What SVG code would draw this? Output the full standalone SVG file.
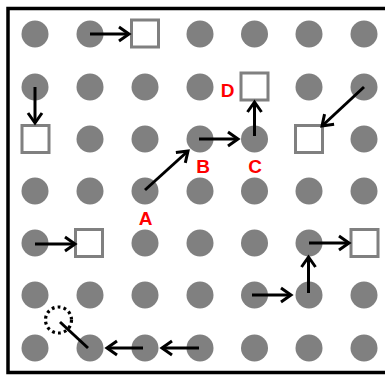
<svg xmlns="http://www.w3.org/2000/svg" width="385" height="376" viewBox="0 0 385 376">
<defs>
<style>
.dot{fill:#808080}
.sq{fill:#ffffff;stroke:#808080;stroke-width:3}
.ar{stroke:#000;stroke-width:3;fill:none;marker-end:url(#ah)}
.ln{stroke:#000;stroke-width:3;fill:none}
.lbl{font-family:"Liberation Sans",Arial,sans-serif;font-weight:bold;font-size:19px;fill:#ff0000;text-anchor:middle}
</style>
<marker id="ah" markerUnits="userSpaceOnUse" markerWidth="20" markerHeight="20" viewBox="-12 -10 14 20" refX="0" refY="0" orient="auto">
<path d="M-10,-7 L0,0 L-10,7" fill="none" stroke="#000" stroke-width="3"/>
</marker>
</defs>
<rect x="0" y="0" width="385" height="376" fill="#ffffff"/>
<rect x="8" y="8.5" width="392" height="364" fill="none" stroke="#000" stroke-width="3.5"/>
<g id="grid">
<g id="r0"><circle class="dot" cx="35" cy="34" r="13.5"/><circle class="dot" cx="90" cy="34" r="13.5"/><circle class="dot" cx="200" cy="34" r="13.5"/><circle class="dot" cx="254.5" cy="34" r="13.5"/><circle class="dot" cx="309" cy="34" r="13.5"/><circle class="dot" cx="364" cy="34" r="13.5"/></g>
<g id="r1"><circle class="dot" cx="35" cy="87" r="13.5"/><circle class="dot" cx="90" cy="87" r="13.5"/><circle class="dot" cx="145" cy="87" r="13.5"/><circle class="dot" cx="200" cy="87" r="13.5"/><circle class="dot" cx="309" cy="87" r="13.5"/><circle class="dot" cx="364" cy="87" r="13.5"/></g>
<g id="r2"><circle class="dot" cx="90" cy="139" r="13.5"/><circle class="dot" cx="145" cy="139" r="13.5"/><circle class="dot" cx="200" cy="139" r="13.5"/><circle class="dot" cx="254.5" cy="139" r="13.5"/><circle class="dot" cx="364" cy="139" r="13.5"/></g>
<g id="r3"><circle class="dot" cx="35" cy="191" r="13.5"/><circle class="dot" cx="90" cy="191" r="13.5"/><circle class="dot" cx="145" cy="191" r="13.5"/><circle class="dot" cx="200" cy="191" r="13.5"/><circle class="dot" cx="254.5" cy="191" r="13.5"/><circle class="dot" cx="309" cy="191" r="13.5"/><circle class="dot" cx="364" cy="191" r="13.5"/></g>
<g id="r4"><circle class="dot" cx="35" cy="243" r="13.5"/><circle class="dot" cx="145" cy="243" r="13.5"/><circle class="dot" cx="200" cy="243" r="13.5"/><circle class="dot" cx="254.5" cy="243" r="13.5"/><circle class="dot" cx="309" cy="243" r="13.5"/></g>
<g id="r5"><circle class="dot" cx="35" cy="295" r="13.5"/><circle class="dot" cx="90" cy="295" r="13.5"/><circle class="dot" cx="145" cy="295" r="13.5"/><circle class="dot" cx="200" cy="295" r="13.5"/><circle class="dot" cx="254.5" cy="295" r="13.5"/><circle class="dot" cx="309" cy="295" r="13.5"/><circle class="dot" cx="364" cy="295" r="13.5"/></g>
<g id="r6"><circle class="dot" cx="35" cy="348" r="13.5"/><circle class="dot" cx="90" cy="348" r="13.5"/><circle class="dot" cx="145" cy="348" r="13.5"/><circle class="dot" cx="200" cy="348" r="13.5"/><circle class="dot" cx="254.5" cy="348" r="13.5"/><circle class="dot" cx="309" cy="348" r="13.5"/><circle class="dot" cx="364" cy="348" r="13.5"/></g>
</g>
<g id="sq1"><rect class="sq" x="131.5" y="20" width="27" height="27"/></g>
<g id="sq2"><rect class="sq" x="22" y="125.5" width="27" height="27"/></g>
<g id="sqD"><rect class="sq" x="241" y="73" width="27" height="27"/></g>
<g id="sq4"><rect class="sq" x="295.5" y="125.5" width="27" height="27"/></g>
<g id="sq5"><rect class="sq" x="75.5" y="229.5" width="27" height="27"/></g>
<g id="sq6"><rect class="sq" x="351" y="229.5" width="27" height="27"/></g>
<g id="target"><circle cx="58.5" cy="320" r="13" fill="none" stroke="#000" stroke-width="3.2" stroke-dasharray="2.8 3.2"/></g>
<g id="connectors">
<line class="ar" x1="90" y1="34" x2="129" y2="34"/>
<line class="ar" x1="35" y1="87" x2="35" y2="123"/>
<line class="ar" x1="145" y1="190" x2="188" y2="151"/>
<line class="ar" x1="199" y1="139" x2="238" y2="139"/>
<line class="ar" x1="254.5" y1="136" x2="254.5" y2="102"/>
<line class="ar" x1="364" y1="87" x2="322" y2="126"/>
<line class="ar" x1="35" y1="244" x2="75" y2="244"/>
<line class="ar" x1="252" y1="295" x2="291" y2="295"/>
<line class="ar" x1="308.5" y1="293" x2="308.5" y2="257"/>
<line class="ar" x1="309" y1="243" x2="349" y2="243"/>
<line class="ar" x1="199" y1="348" x2="162" y2="348"/>
<line class="ar" x1="143" y1="348" x2="107" y2="348"/>
<line class="ln" x1="88" y1="348" x2="60" y2="322"/>
</g>
<g id="labels">
<text class="lbl" x="145.5" y="225">A</text>
<text class="lbl" x="203" y="173">B</text>
<text class="lbl" x="255" y="173">C</text>
<text class="lbl" x="227.5" y="97">D</text>
</g>
</svg>
